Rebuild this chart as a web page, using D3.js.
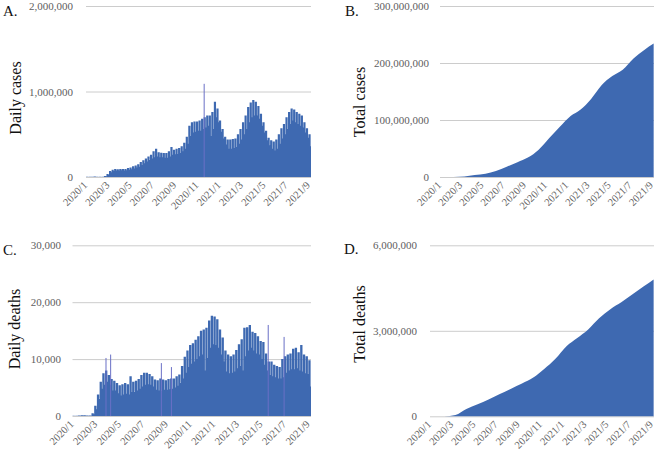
<!DOCTYPE html>
<html><head><meta charset="utf-8">
<script src="https://cdn.jsdelivr.net/npm/d3@7"></script>
<style>body{margin:0;background:#fff}svg{display:block}</style>
</head><body>
<svg id="chart" width="657" height="454"></svg>
<script>
// ---------- DATA ----------
const startDate = "2020-01-22";          // first reported day (day index 0)
const lastDate = "2021-09-28";           // last reported day
const labelStep = 61;                    // one category label every 61 days
const xTickLabels = ["2020/1","2020/3","2020/5","2020/7","2020/9","2020/11","2021/1","2021/3","2021/5","2021/7","2021/9"];

// weekly values (thousands), one entry per week starting 2020-01-22: weekday level and weekend dip
const dailyCasesHigh = [2,3,3,5,2,2,3,12,35,70,
  85,95,90,95,95,95,105,110,125,135,
  150,175,195,215,240,260,300,330,290,285,
  280,280,300,350,320,330,340,360,400,470,
  600,640,650,650,660,680,700,720,720,760,
  880,800,660,560,470,440,440,445,450,500,
  560,640,720,820,870,900,880,830,740,640,
  540,460,430,415,440,500,570,620,700,760,
  800,790,760,740,720,640,570,500];
const dailyCasesLow = [1,2,2,3,1,1,2,8,25,55,
  70,75,75,78,75,78,85,90,100,110,
  120,140,160,180,200,215,230,240,230,230,
  225,225,240,260,265,270,280,300,330,390,
  480,520,530,540,540,560,580,600,480,560,
  700,640,530,450,380,330,330,340,350,390,
  440,500,560,640,700,720,720,680,600,520,
  430,370,330,310,330,390,450,500,560,620,
  660,640,620,600,580,520,460,360];
const dailyDeathsHigh = [0.03,0.06,0.1,0.12,0.12,0.08,0.1,0.5,1.8,3.8,
  6.0,7.5,8.0,7.2,6.5,6.2,5.8,5.4,5.6,5.8,
  5.6,7.0,6.0,6.2,6.5,7.2,7.6,7.6,7.4,7.0,
  6.4,6.3,6.6,6.4,6.3,6.5,6.6,6.6,7.0,7.3,
  8.8,10.4,11.5,12.5,12.8,13.4,14.0,15.0,15.2,15.5,
  16.8,17.6,17.5,17.0,15.2,13.8,11.5,10.8,10.5,10.8,
  11.6,12.6,13.5,15.5,15.6,16.0,14.8,14.6,14.0,13.2,
  13.0,11.0,9.6,9.6,9.0,8.8,8.6,10.0,10.5,10.8,
  11.0,11.8,12.0,11.2,12.5,10.8,10.5,9.8];
const dailyDeathsLow = [0.02,0.04,0.06,0.08,0.08,0.05,0.06,0.3,1.2,3.0,
  4.8,5.5,6.0,5.5,4.5,4.5,4.0,3.6,3.8,3.9,
  3.8,4.2,4.2,4.5,4.8,5.2,5.5,5.6,5.5,5.2,
  4.6,4.5,4.4,4.6,4.6,4.7,4.8,5.0,5.3,5.8,
  6.6,7.6,8.6,9.2,9.6,10.0,10.5,10.8,8.0,10.2,
  12.0,12.6,12.5,12.0,10.8,9.6,7.8,7.5,7.6,7.8,
  8.4,8.8,8.0,10.5,11.5,12.0,11.5,11.0,10.8,10.0,
  9.0,8.0,7.2,7.0,6.8,6.6,6.6,6.8,7.6,8.0,
  8.2,8.2,8.4,8.0,7.8,7.5,7.4,5.2];
// single-day reporting spikes
const caseSpikeDates = ["2020-12-10"];
const caseSpikeValues = [1090];          // thousands
const deathSpikeDates = ["2020-04-17","2020-04-29","2020-09-07","2020-10-03","2021-06-10","2021-07-21"];
const deathSpikeValues = [10.2,10.8,9.3,8.6,16.0,13.9]; // thousands

// cumulative totals (millions)
const totalDates = ["2020-01-22","2020-02-01","2020-03-01","2020-04-01","2020-05-01","2020-06-01","2020-07-01","2020-08-01","2020-09-01","2020-10-01","2020-11-01","2020-12-01","2021-01-01","2021-02-01","2021-03-01","2021-04-01","2021-05-01","2021-06-01","2021-07-01","2021-08-01","2021-09-01","2021-09-28"];
const totalCases = [0.0006,0.012,0.09,0.9,3.3,5.8,10.5,18,26,34,48,68,88,107,118,137,161,177,188,208,223,234];
const totalDeaths = [0.00002,0.0003,0.003,0.05,0.26,0.42,0.59,0.78,0.97,1.15,1.36,1.66,2.02,2.47,2.74,3.05,3.44,3.76,4.0,4.28,4.56,4.8];

const yTicksA = [0, 1000000, 2000000];
const yTicksB = [0, 100000000, 200000000, 300000000];
const yTicksC = [0, 10000, 20000, 30000];
const yTicksD = [0, 3000000, 6000000];

// ---------- DRAW ----------
const svg = d3.select("#chart");
const parse = d3.timeParse("%Y-%m-%d");
const d0 = parse(startDate);
const nDays = d3.timeDay.count(d0, parse(lastDate)) + 1;
const dayOf = s => d3.timeDay.count(d0, parse(s));
const FILL = "#3e69b1";
const SERIF = "'Liberation Serif','Times New Roman',serif";

function panel(cfg) {
  const g = svg.append("g");
  const x = d3.scaleLinear().domain([0, nDays]).range([cfg.x0, cfg.x1]);
  const y = d3.scaleLinear().domain([0, cfg.yMax]).range([cfg.yBase, cfg.yTop]);

  // grid + y labels
  const ax = g.append("g").attr("transform", `translate(${cfg.x0},0)`)
    .call(d3.axisLeft(y).tickValues(cfg.yTicks).tickSize(-(cfg.x1 - cfg.x0)).tickPadding(cfg.pad).tickFormat(d3.format(",")));
  ax.select(".domain").remove();
  ax.selectAll("line").attr("stroke", "#cccccc").attr("stroke-width", 1);
  ax.selectAll("text").attr("fill", "#606060").style("font-family", SERIF).style("font-size", "11px");

  // marks
  if (cfg.kind === "daily") {
    const pts = [];
    cfg.hi.forEach((v, w) => {
      pts.push({d: w * 7, v: v * cfg.unit});
      pts.push({d: w * 7 + 6, v: cfg.lo[w] * cfg.unit});
    });
    pts.push({d: nDays, v: cfg.lo[cfg.lo.length - 1] * cfg.unit});
    const area = d3.area().x(p => x(p.d)).y0(y(0)).y1(p => y(p.v)).curve(d3.curveStepAfter);
    g.append("path").datum(pts).attr("d", area).attr("fill", FILL);
    g.selectAll(".spike").data(cfg.spikeDates.map((s, i) => ({d: dayOf(s), v: cfg.spikeValues[i] * cfg.unit})))
      .join("rect").attr("x", p => x(p.d + 0.5) - 0.5).attr("width", 1)
      .attr("y", p => y(p.v)).attr("height", p => y(0) - y(p.v)).attr("fill", "#6a70c6");
  } else {
    const pts = totalDates.map((s, i) => ({d: dayOf(s), v: cfg.values[i] * 1e6}));
    const area = d3.area().x(p => x(p.d)).y0(y(0)).y1(p => y(p.v)).curve(d3.curveMonotoneX);
    g.append("path").datum(pts).attr("d", area).attr("fill", FILL);
  }

  // x labels
  g.selectAll(".xl").data(xTickLabels).join("text")
    .attr("transform", (t, i) => `translate(${x(i * labelStep)},${cfg.yBase + 7}) rotate(-45)`)
    .attr("text-anchor", "end").attr("dy", "0.25em")
    .attr("fill", "#606060").style("font-family", SERIF).style("font-size", "10.5px").text(t => t);

  // titles
  g.append("text").attr("transform", `translate(${cfg.titleX},${cfg.titleY}) rotate(-90)`)
    .attr("text-anchor", "middle").attr("dy", "0.35em").style("font-family", SERIF).style("font-size", "16px")
    .attr("fill", "#111").text(cfg.title);
  g.append("text").attr("x", cfg.letterX).attr("y", cfg.letterY).style("font-family", SERIF).style("font-size", "15px")
    .attr("fill", "#111").text(cfg.letter);
}

panel({kind: "daily", hi: dailyCasesHigh, lo: dailyCasesLow, unit: 1000, spikeDates: caseSpikeDates, spikeValues: caseSpikeValues,
  x0: 86, x1: 311, yBase: 177, yTop: 6, yMax: 2000000, yTicks: yTicksA, pad: 13,
  title: "Daily cases", titleX: 15, titleY: 98, letter: "A.", letterX: 3, letterY: 16});
panel({kind: "total", values: totalCases,
  x0: 440, x1: 654, yBase: 177, yTop: 6, yMax: 300000000, yTicks: yTicksB, pad: 11,
  title: "Total cases", titleX: 359, titleY: 102, letter: "B.", letterX: 345, letterY: 16});
panel({kind: "daily", hi: dailyDeathsHigh, lo: dailyDeathsLow, unit: 1000, spikeDates: deathSpikeDates, spikeValues: deathSpikeValues,
  x0: 72.5, x1: 311, yBase: 416, yTop: 245.3, yMax: 30000, yTicks: yTicksC, pad: 11.5,
  title: "Daily deaths", titleX: 14, titleY: 329, letter: "C.", letterX: 3, letterY: 255});
panel({kind: "total", values: totalDeaths,
  x0: 430, x1: 654, yBase: 416.3, yTop: 245.3, yMax: 6000000, yTicks: yTicksD, pad: 13,
  title: "Total deaths", titleX: 359, titleY: 324, letter: "D.", letterX: 344, letterY: 254});
</script>
</body></html>
